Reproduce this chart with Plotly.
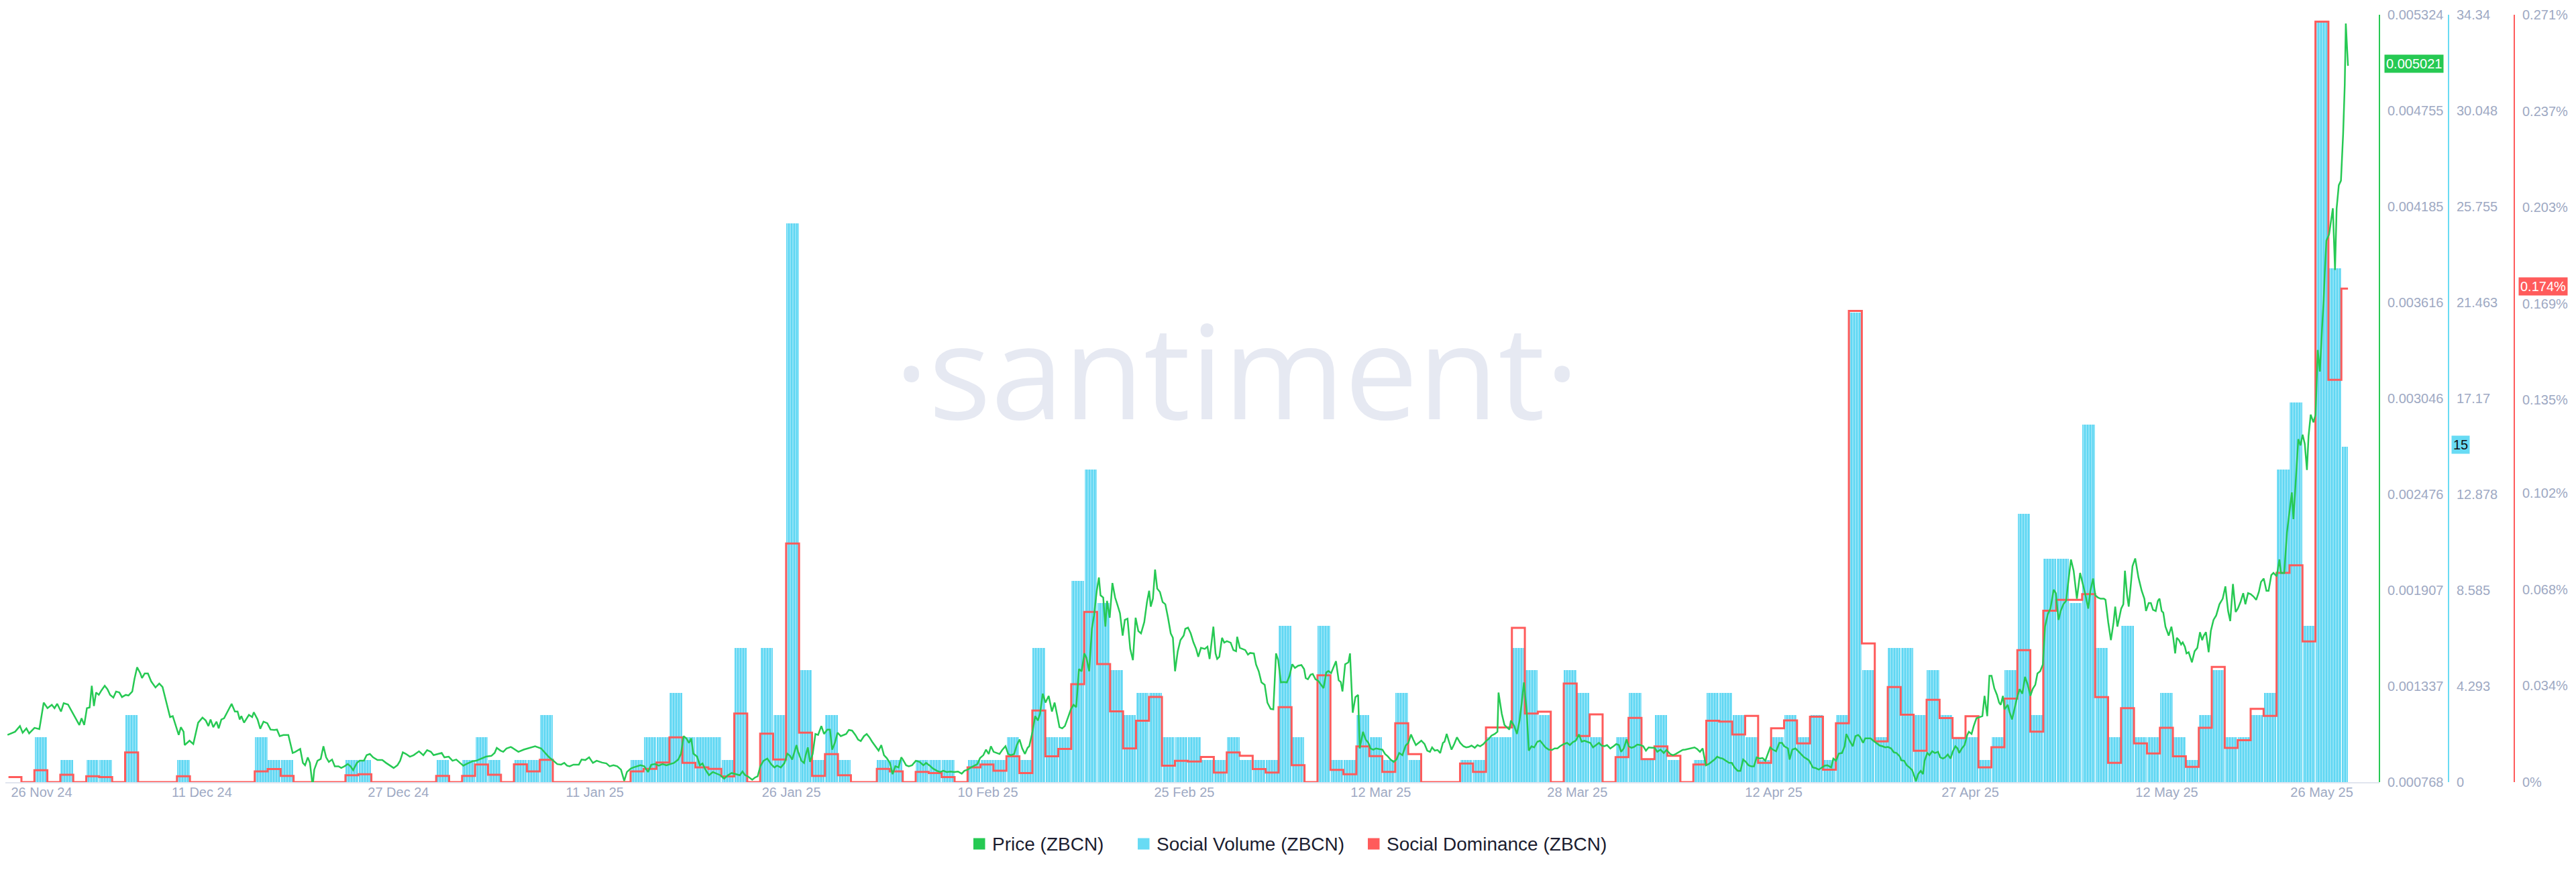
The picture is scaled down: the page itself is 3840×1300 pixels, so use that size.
import plotly.graph_objects as go
from datetime import datetime, timedelta

# ---------------- data ----------------
first_day = datetime(2024, 11, 27)          # daily bars, one per day

social_volume = [
    0, 0, 2, 0, 1, 0, 1, 1, 0, 3,
    0, 0, 0, 1, 0, 0, 0, 0, 0, 2,
    1, 1, 0, 0, 0, 0, 1, 1, 0, 0,
    0, 0, 0, 1, 0, 1, 2, 1, 0, 1,
    1, 3, 0, 0, 0, 0, 0, 0, 1, 2,
    2, 4, 2, 2, 2, 1, 6, 0, 6, 3,
    25, 5, 1, 3, 1, 0, 0, 1, 1, 0,
    1, 1, 1, 0, 1, 1, 1, 2, 1, 6,
    2, 2, 9, 14, 8, 5, 3, 4, 4, 2,
    2, 2, 1, 1, 2, 1, 1, 1, 7, 2,
    0, 7, 1, 1, 3, 2, 1, 4, 1, 0,
    0, 0, 1, 1, 2, 2, 6, 5, 3, 0,
    5, 4, 2, 0, 2, 4, 1, 3, 1, 0,
    1, 4, 4, 3, 2, 1, 2, 3, 2, 3,
    1, 3, 21, 5, 2, 6, 6, 3, 5, 3,
    2, 2, 1, 2, 5, 12, 3, 10, 10, 8,
    16, 6, 2, 7, 2, 2, 4, 2, 1, 3,
    5, 2, 2, 3, 4, 14, 17, 7, 34, 23,
    15,
]

social_dominance_pct = [
    0.0018, 0, 0.0042, 0, 0.0026, 0, 0.0021, 0.0018, 0, 0.0105,
    0, 0, 0, 0.0021, 0, 0, 0, 0, 0, 0.0038,
    0.0046, 0.0022, 0, 0, 0, 0, 0.0024, 0.0028, 0, 0,
    0, 0, 0, 0.0022, 0, 0.0022, 0.0062, 0.0026, 0, 0.0063,
    0.0038, 0.0079, 0, 0, 0, 0, 0, 0, 0.0038, 0.0047,
    0.0069, 0.0158, 0.0068, 0.0052, 0.0047, 0.002, 0.0242, 0, 0.0171, 0.008,
    0.0843, 0.0175, 0.0022, 0.0099, 0.0024, 0, 0, 0.0047, 0.0038, 0,
    0.0036, 0.0032, 0.0018, 0, 0.0052, 0.0062, 0.004, 0.0091, 0.0032, 0.0253,
    0.0091, 0.0117, 0.0346, 0.0601, 0.0417, 0.025, 0.0119, 0.0217, 0.0301, 0.0058,
    0.0075, 0.0073, 0.0089, 0.0034, 0.0105, 0.0093, 0.0046, 0.0034, 0.0265, 0.006,
    0, 0.0377, 0.0043, 0.0028, 0.0126, 0.0092, 0.0036, 0.0208, 0.0099, 0,
    0, 0, 0.0066, 0.0036, 0.0193, 0.0193, 0.0545, 0.0242, 0.0249, 0,
    0.0348, 0.0163, 0.0239, 0, 0.0088, 0.0227, 0.0081, 0.0126, 0.0093, 0,
    0.0062, 0.0217, 0.0214, 0.0168, 0.0234, 0.0068, 0.019, 0.0218, 0.0137, 0.0231,
    0.0044, 0.0208, 0.1664, 0.049, 0.0144, 0.0336, 0.0238, 0.0111, 0.0291, 0.0226,
    0.0156, 0.0233, 0.0052, 0.0123, 0.0295, 0.0466, 0.0178, 0.0605, 0.0644, 0.0644,
    0.0664, 0.03, 0.0068, 0.0261, 0.0137, 0.0101, 0.0192, 0.0091, 0.0054, 0.0192,
    0.0407, 0.0121, 0.0148, 0.0259, 0.0234, 0.0739, 0.0766, 0.0497, 0.2686, 0.1421,
    0.1743,
]

# price: hours after the start time, and price in USD
price_start = datetime(2024, 11, 26, 18, 15)
price_hours = [
    4, 18, 27, 32, 39, 44, 54, 63, 71, 78, 86, 91, 96, 103, 108, 116, 121, 128, 137, 141,
    146, 151, 156, 160, 164, 168, 173, 178, 184, 189, 194, 200, 205, 211, 216, 223, 228, 235, 239, 244,
    250, 253, 258, 264, 270, 278, 285, 291, 298, 305, 310, 318, 321, 325, 330, 332, 341, 348, 357, 365,
    371, 376, 380, 385, 391, 395, 400, 405, 412, 419, 425, 430, 434, 437, 442, 451, 457, 460, 467, 472,
    478, 485, 491, 498, 503, 508, 515, 524, 532, 537, 546, 551, 555, 560, 564, 569, 572, 578, 584, 589,
    594, 599, 605, 610, 617, 622, 628, 634, 639, 644, 651, 656, 664, 669, 675, 681, 689, 698, 705, 712,
    719, 726, 731, 736, 742, 749, 756, 766, 774, 781, 788, 793, 801, 808, 813, 821, 828, 835, 842, 848,
    856, 865, 872, 881, 890, 900, 906, 910, 917, 922, 928, 936, 943, 950, 960, 970, 981, 992, 1000, 1007,
    1015, 1022, 1029, 1035, 1040, 1045, 1052, 1062, 1067, 1074, 1081, 1088, 1095, 1105, 1113,
    1119, 1126, 1133, 1140, 1146, 1151, 1158, 1163, 1169, 1176, 1183, 1190, 1196, 1203, 1210, 1217,
    1224, 1231, 1238, 1246, 1251, 1256, 1261, 1266, 1270, 1274, 1281, 1286, 1291, 1296, 1303, 1310,
    1317, 1324, 1331, 1338, 1345, 1353, 1360, 1365, 1370, 1375, 1383, 1388, 1393, 1398, 1404, 1411,
    1418, 1424, 1429, 1436, 1443, 1448, 1453, 1457, 1461, 1465, 1468, 1474, 1479, 1482, 1486, 1490,
    1495, 1500, 1505, 1511, 1516, 1522, 1527, 1531, 1536, 1541, 1547, 1552, 1557, 1562, 1568, 1574,
    1579, 1584, 1590, 1595, 1600, 1605, 1611, 1617, 1622, 1627, 1632, 1638, 1643, 1648, 1654, 1659,
    1662, 1668, 1673, 1679, 1686, 1693, 1700, 1705, 1711, 1718, 1725, 1731, 1737, 1743, 1750, 1757,
    1764, 1771, 1776, 1782, 1788, 1795, 1800, 1805, 1811, 1816, 1821, 1825, 1830, 1836, 1841, 1846,
    1852, 1857, 1862, 1868, 1873, 1878, 1883, 1888, 1893, 1896, 1902, 1907, 1912, 1916, 1921, 1926,
    1932, 1938, 1943, 1948, 1952, 1957, 1962, 1968, 1973, 1978, 1983, 1988, 1993, 1998, 2002, 2007,
    2012, 2016, 2021, 2025, 2028, 2033, 2037, 2040, 2045, 2050, 2055, 2059, 2064, 2069, 2073, 2078,
    2083, 2088, 2093, 2098, 2103, 2109, 2114, 2118, 2121, 2125, 2129, 2133, 2138, 2143, 2148, 2153,
    2158, 2162, 2166, 2171, 2176, 2182, 2185, 2190, 2195, 2200, 2205, 2209, 2214, 2221, 2226, 2230,
    2237, 2241, 2244, 2248, 2253, 2257, 2262, 2269, 2274, 2279, 2281, 2286, 2291, 2296, 2301, 2305,
    2312, 2316, 2321, 2326, 2332, 2337, 2343, 2348, 2353, 2357, 2362, 2367, 2373, 2378, 2383, 2388,
    2394, 2400, 2405, 2408, 2412, 2417, 2421, 2426, 2431, 2437, 2441, 2446, 2450, 2455, 2460, 2464,
    2469, 2473, 2476, 2481, 2487, 2490, 2495, 2500, 2505, 2508, 2514, 2519, 2524, 2528, 2533, 2538,
    2544, 2550, 2555, 2560, 2565, 2571, 2576, 2581, 2587, 2593, 2598, 2603, 2607, 2612, 2617, 2622,
    2628, 2633, 2638, 2642, 2647, 2652, 2657, 2662, 2665, 2669, 2674, 2678, 2683, 2688, 2694, 2700,
    2705, 2710, 2715, 2721, 2726, 2731, 2737, 2742, 2747, 2752, 2758, 2763, 2765, 2771, 2776, 2781,
    2785, 2788, 2794, 2799, 2804, 2808, 2812, 2817, 2821, 2826, 2831, 2837, 2842, 2847, 2852, 2858,
    2864, 2869, 2874, 2879, 2886, 2892, 2897, 2902, 2908, 2914, 2919, 2924, 2929, 2935, 2940, 2945,
    2951, 2956, 2961, 2966, 2972, 2978, 2983, 2988, 2992, 2997, 3002, 3006, 3011, 3016, 3022, 3028,
    3033, 3038, 3043, 3049, 3054, 3059, 3065, 3071, 3076, 3083, 3088, 3093, 3101, 3106, 3111, 3116,
    3122, 3128, 3133, 3138, 3143, 3149, 3154, 3159, 3165, 3170, 3175, 3180, 3186, 3192, 3197, 3202,
    3208, 3213, 3218, 3223, 3228, 3233, 3238, 3243, 3249, 3254, 3259, 3263, 3268, 3273, 3279, 3285,
    3290,
    3294, 3301, 3304, 3309, 3315, 3321, 3326, 3331, 3335, 3340, 3347, 3352, 3358, 3364, 3369, 3374,
    3378, 3381, 3385, 3390, 3395, 3401, 3406, 3409, 3415, 3421, 3426, 3431, 3435, 3440, 3444, 3449,
    3454, 3459, 3465, 3471, 3476, 3481, 3486, 3492, 3497, 3502, 3508, 3511, 3516, 3521, 3526, 3531,
    3535, 3538, 3542, 3547, 3551, 3554, 3559, 3563, 3568, 3573, 3579, 3583, 3588, 3592, 3597, 3602,
    3606, 3611, 3615, 3618, 3623, 3628, 3633, 3636, 3641, 3645, 3650, 3656, 3661, 3665, 3670, 3674,
    3678, 3683, 3688, 3692, 3695, 3699, 3702, 3708, 3711, 3716, 3720, 3725, 3730, 3735, 3740, 3745,
    3750, 3754, 3759, 3763, 3768, 3773, 3777, 3782, 3787, 3793, 3797, 3802, 3806, 3811, 3816, 3820,
    3825, 3830, 3836, 3842, 3847, 3852, 3857, 3861, 3866, 3870, 3875, 3880, 3886, 3889, 3894, 3899,
    3904, 3907, 3911, 3914, 3918, 3922, 3925, 3929, 3932, 3936, 3939, 3944, 3950, 3956, 3961, 3964,
    3969, 3973, 3977, 3982, 3986, 3989, 3993, 3996, 4000, 4006, 4011, 4014, 4018, 4021, 4025, 4029,
    4032, 4036, 4039, 4043, 4049, 4054, 4059, 4064, 4068, 4071, 4075, 4080, 4084, 4089, 4094, 4100,
    4106, 4111, 4116, 4120, 4125, 4130, 4134, 4139, 4144, 4148, 4153, 4158, 4163, 4168, 4173, 4177,
    4182, 4187, 4191, 4196, 4200, 4206, 4211, 4214, 4220, 4225, 4230, 4234, 4237, 4241,
    4246, 4250, 4254, 4258, 4262, 4265, 4269, 4274, 4278, 4282, 4286, 4290, 4293, 4295, 4298, 4303,
    4307, 4310, 4314, 4317, 4321, 4325, 4329, 4332, 4334, 4338,
]
price_values = [
    0.001048, 0.001067, 0.001101, 0.001061, 0.001087, 0.001057, 0.001090, 0.001083, 0.001240, 0.001207,
    0.001227, 0.001207, 0.001233, 0.001187, 0.001237, 0.001229, 0.001200, 0.001160, 0.001107, 0.001147,
    0.001107, 0.001207, 0.001211, 0.001340, 0.001220, 0.001300, 0.001286, 0.001313, 0.001340, 0.001320,
    0.001286, 0.001270, 0.001306, 0.001300, 0.001273, 0.001286, 0.001282, 0.001306, 0.001379, 0.001450,
    0.001413, 0.001386, 0.001413, 0.001413, 0.001366, 0.001330, 0.001353, 0.001333, 0.001240, 0.001154,
    0.001160, 0.001080, 0.001048, 0.001094, 0.001067, 0.000988, 0.001014, 0.000994, 0.001121, 0.001151,
    0.001134, 0.001101, 0.001140, 0.001094, 0.001127, 0.001087, 0.001140, 0.001147, 0.001187, 0.001233,
    0.001187, 0.001187, 0.001140, 0.001160, 0.001121, 0.001167, 0.001154, 0.001183, 0.001140, 0.001085,
    0.001127, 0.001118, 0.001080, 0.001078, 0.001080, 0.001041, 0.001048, 0.001048, 0.000941, 0.000948,
    0.000965, 0.000882, 0.000868, 0.000915, 0.000882, 0.000742, 0.000842, 0.000895, 0.000906, 0.000981,
    0.000915, 0.000888, 0.000902, 0.000862, 0.000862, 0.000852, 0.000862, 0.000875, 0.000862, 0.000839,
    0.000882, 0.000895, 0.000895, 0.000928, 0.000935, 0.000915, 0.000899, 0.000899, 0.000882, 0.000866,
    0.000852, 0.000868, 0.000895, 0.000945, 0.000935, 0.000919, 0.000928, 0.000951, 0.000928, 0.000958,
    0.000948, 0.000928, 0.000935, 0.000941, 0.000915, 0.000919, 0.000895, 0.000902, 0.000882, 0.000866,
    0.000879, 0.000892, 0.000895, 0.000908, 0.000919, 0.000924, 0.000941, 0.000971, 0.000955, 0.000948,
    0.000968, 0.000977, 0.000964, 0.000948, 0.000961, 0.000971, 0.000981, 0.000968, 0.000941, 0.000915,
    0.000895, 0.000875, 0.000872, 0.000882, 0.000866, 0.000862, 0.000872, 0.000872, 0.000902, 0.000899,
    0.000915, 0.000882, 0.000895, 0.000884, 0.000879,
    0.000862, 0.000868, 0.000862, 0.000842, 0.000775, 0.000828, 0.000848, 0.000855, 0.000862, 0.000868,
    0.000862, 0.000828, 0.000871, 0.000875, 0.000866, 0.000875, 0.000868, 0.000875, 0.000882, 0.000902,
    0.000935, 0.001041, 0.001028, 0.001001, 0.001028, 0.000937, 0.000919, 0.000868, 0.000879, 0.000844,
    0.000809, 0.000828, 0.000818, 0.000809, 0.000789, 0.000809, 0.000822, 0.000815, 0.000809, 0.000831,
    0.000809, 0.000802, 0.000782, 0.000795, 0.000802, 0.000862, 0.000895, 0.000908, 0.000875, 0.000855,
    0.000866, 0.000855, 0.000882, 0.000937, 0.000924, 0.000902, 0.000948, 0.000988, 0.000948, 0.000895,
    0.000882, 0.000928, 0.000974, 0.000888, 0.000935, 0.001054, 0.001048, 0.001101, 0.001054, 0.001080,
    0.001080, 0.000961, 0.001001, 0.001061, 0.001041, 0.001048, 0.001054, 0.001078, 0.001074, 0.001048,
    0.001021, 0.001012, 0.001041, 0.001054, 0.001034, 0.001008, 0.000981, 0.000955, 0.000988, 0.000928,
    0.000911, 0.000882, 0.000815, 0.000862, 0.000855, 0.000915, 0.000902, 0.000868, 0.000862, 0.000868,
    0.000895, 0.000888, 0.000868, 0.000882, 0.000868, 0.000848, 0.000835, 0.000828, 0.000835, 0.000828,
    0.000831, 0.000828, 0.000831, 0.000818, 0.000835, 0.000842, 0.000855, 0.000868, 0.000875, 0.000911,
    0.000928, 0.000961, 0.000935, 0.000981, 0.000948, 0.000941, 0.000935, 0.000959, 0.000981, 0.000935,
    0.000928, 0.000935, 0.000988, 0.001021, 0.000968, 0.000935, 0.000972, 0.000981, 0.001067, 0.001160,
    0.001134, 0.001174, 0.001293, 0.001240, 0.001280, 0.001187, 0.001240, 0.001160, 0.001094, 0.001087,
    0.001101, 0.001154, 0.001200, 0.001227, 0.001213, 0.001439, 0.001426, 0.001532, 0.001505, 0.001426,
    0.001678, 0.001758, 0.001904, 0.001983, 0.001877, 0.001864, 0.001691, 0.001844, 0.001744, 0.001950,
    0.001864, 0.001824, 0.001771, 0.001638, 0.001731, 0.001738, 0.001559, 0.001492, 0.001744, 0.001665,
    0.001651, 0.001718, 0.001837, 0.001904, 0.001810, 0.001857, 0.002030, 0.001917, 0.001897, 0.001837,
    0.001824, 0.001744, 0.001651, 0.001625, 0.001426, 0.001545, 0.001611, 0.001638, 0.001678, 0.001685,
    0.001651, 0.001598, 0.001559, 0.001512, 0.001565, 0.001559, 0.001572, 0.001499,
    0.001691, 0.001532, 0.001499, 0.001512, 0.001625, 0.001596, 0.001605, 0.001596, 0.001552, 0.001545,
    0.001631, 0.001565, 0.001559, 0.001552, 0.001525, 0.001535, 0.001532, 0.001466, 0.001426, 0.001360,
    0.001346, 0.001240, 0.001203, 0.001200, 0.001532, 0.001492, 0.001360, 0.001362, 0.001360, 0.001399,
    0.001468, 0.001446, 0.001459, 0.001463, 0.001439, 0.001386, 0.001379, 0.001406, 0.001410, 0.001379,
    0.001370, 0.001346, 0.001326, 0.001419, 0.001428, 0.001415, 0.001452, 0.001486, 0.001373, 0.001362,
    0.001306, 0.001468, 0.001479, 0.001532, 0.001180, 0.001273, 0.001286, 0.000968, 0.001067, 0.001021,
    0.001001, 0.000968, 0.000961, 0.000968, 0.000964, 0.000961, 0.000935, 0.000921, 0.000902, 0.000888,
    0.000902, 0.000941, 0.000928, 0.000985, 0.001001, 0.001051, 0.001021, 0.000988, 0.001001, 0.001014,
    0.000994, 0.000955, 0.000948, 0.000974, 0.000955, 0.000959, 0.000941, 0.001001, 0.001008, 0.001054,
    0.001001, 0.000961, 0.000994, 0.001034, 0.001001, 0.000981, 0.000974, 0.000977, 0.000985, 0.000972,
    0.000988, 0.000981, 0.000994, 0.001012, 0.001025, 0.001044, 0.001054, 0.001067, 0.001300, 0.001174,
    0.001107, 0.001094, 0.001080, 0.001134, 0.001101, 0.001054, 0.001134, 0.001240, 0.001360, 0.001200,
    0.000955, 0.000981, 0.000974, 0.001008, 0.001014, 0.000994, 0.000974, 0.000961, 0.000959, 0.000968,
    0.000968, 0.000981, 0.000994, 0.001001, 0.000988, 0.001004, 0.001014, 0.001051, 0.001008, 0.001014,
    0.001008, 0.001001, 0.000974, 0.000988, 0.001001, 0.000985, 0.000981, 0.000988, 0.000968, 0.000981,
    0.000994, 0.000988, 0.000948, 0.000968, 0.001021, 0.000981, 0.000972, 0.000977, 0.000991, 0.000988,
    0.000981, 0.000955, 0.000974, 0.000972, 0.000972, 0.000948, 0.000961, 0.000941, 0.000959, 0.000935,
    0.000928, 0.000935, 0.000948, 0.000959, 0.000961, 0.000964, 0.000968, 0.000974, 0.000964, 0.000948,
    0.000968, 0.000868, 0.000875, 0.000888, 0.000902, 0.000919, 0.000911, 0.000908, 0.000895, 0.000882,
    0.000882, 0.000855, 0.000835, 0.000835, 0.000902, 0.000888, 0.000868, 0.000862, 0.000862, 0.000915,
    0.000908, 0.000911, 0.000895, 0.000928, 0.000974, 0.000961, 0.000951, 0.001001, 0.001001,
    0.000981, 0.000968, 0.000902, 0.000961, 0.000968, 0.000948, 0.000928, 0.000915, 0.000908, 0.000897,
    0.000855, 0.000852, 0.000842, 0.000855, 0.000866, 0.000868, 0.000862, 0.000855, 0.000908, 0.000895,
    0.000937, 0.000941, 0.000981, 0.001054, 0.001014, 0.000981, 0.001041, 0.001048, 0.001034, 0.001001,
    0.001028, 0.001028, 0.001028, 0.001014, 0.001001, 0.000985, 0.000981, 0.000974, 0.000977, 0.000968,
    0.000945, 0.000941, 0.000921, 0.000897, 0.000895, 0.000868, 0.000855, 0.000839, 0.000802, 0.000773,
    0.000815, 0.000835, 0.000815, 0.000895, 0.000941, 0.000928, 0.000951, 0.000941, 0.000948, 0.000915,
    0.000908, 0.000915, 0.000932, 0.000908, 0.000948, 0.000981, 0.000968, 0.000941, 0.000968, 0.000988,
    0.001048, 0.001067, 0.001054, 0.001101, 0.001147, 0.001154, 0.001160, 0.001280, 0.001160, 0.001399,
    0.001399, 0.001326, 0.001286, 0.001240, 0.001227, 0.001280, 0.001200, 0.001227, 0.001187, 0.001140,
    0.001200, 0.001267, 0.001320, 0.001293, 0.001393, 0.001346, 0.001280, 0.001320, 0.001346, 0.001413,
    0.001426, 0.001466, 0.001691, 0.001764, 0.001798, 0.001910, 0.001890, 0.001731, 0.001784, 0.001824,
    0.001844, 0.001957, 0.002090, 0.002023, 0.001857, 0.002010, 0.001944, 0.001877, 0.001798, 0.001904,
    0.001977, 0.001877, 0.001864, 0.001857, 0.001857, 0.001850, 0.001718, 0.001611, 0.001718, 0.001810,
    0.001691, 0.001744, 0.001798, 0.001824, 0.002023, 0.001877, 0.001810, 0.001944, 0.002050, 0.002096,
    0.001983, 0.001904, 0.001857, 0.001784, 0.001831, 0.001831, 0.001791, 0.001784, 0.001844, 0.001857,
    0.001784, 0.001774, 0.001691, 0.001638, 0.001691, 0.001638, 0.001532, 0.001625, 0.001611, 0.001585,
    0.001598, 0.001572, 0.001532, 0.001539, 0.001479, 0.001545, 0.001565, 0.001658, 0.001611, 0.001638,
    0.001658, 0.001539, 0.001665, 0.001731, 0.001758, 0.001824, 0.001857, 0.001930, 0.001784, 0.001724,
    0.001944, 0.001778, 0.001798, 0.001837, 0.001890, 0.001824, 0.001890, 0.001884, 0.001870, 0.001850,
    0.001897, 0.001957, 0.001977, 0.001904, 0.001904, 0.001997, 0.002010, 0.001990, 0.002090, 0.002010,
    0.002010, 0.002249, 0.002382, 0.002488, 0.002329, 0.002541,
    0.002804, 0.002767, 0.002831, 0.002776, 0.002621, 0.002822, 0.002950, 0.002904, 0.002950, 0.003334,
    0.003206, 0.003462, 0.003626, 0.003791, 0.003983, 0.004020, 0.004120, 0.004175, 0.003809, 0.004175,
    0.004312, 0.004339, 0.004614, 0.004906, 0.005272, 0.005021,
]

price_ticks = [0.000768, 0.001337, 0.001907, 0.002476, 0.003046, 0.003616, 0.004185, 0.004755, 0.005324]
volume_ticks = [0, 4.293, 8.585, 12.878, 17.17, 21.463, 25.755, 30.048, 34.34]
dominance_ticks = [0, 0.034, 0.068, 0.102, 0.135, 0.169, 0.203, 0.237, 0.271]

x_tick_text = ["26 Nov 24", "11 Dec 24", "27 Dec 24", "11 Jan 25", "26 Jan 25", "10 Feb 25",
               "25 Feb 25", "12 Mar 25", "28 Mar 25", "12 Apr 25", "27 Apr 25", "12 May 25", "26 May 25"]
x_tick_at = ["2024-11-29 13:20", "2024-12-11 22:07", "2024-12-27 02:00", "2025-01-11 05:50",
             "2025-01-26 09:40", "2025-02-10 13:35", "2025-02-25 17:25", "2025-03-12 21:20",
             "2025-03-28 01:10", "2025-04-12 05:00", "2025-04-27 08:50", "2025-05-12 12:45",
             "2025-05-24 11:45"]

series_names = ["Price (ZBCN)", "Social Volume (ZBCN)", "Social Dominance (ZBCN)"]

# ---------------- build ----------------
GREEN = "#26c953"
CYAN = "#68dbf4"
RED = "#ff5b5b"
LABEL = "#9ea9c3"
FONT = "Liberation Sans, Arial, sans-serif"
DAY_MS = 86400000

days = [first_day + timedelta(days=i) for i in range(len(social_volume))]
price_times = [price_start + timedelta(hours=h) for h in price_hours]
data_end = price_times[-1]

bar_widths = [0.96 * DAY_MS] * len(days)
bar_widths[-1] = (data_end - days[-1]).total_seconds() * 1000 - 0.02 * DAY_MS

fig = go.Figure()

fig.add_trace(go.Bar(
    x=days, y=social_volume, yaxis="y", width=bar_widths, offset=0.02 * DAY_MS,
    marker=dict(color="#5fd7f3", line=dict(width=0),
                pattern=dict(shape="|", fillmode="overlay", fgcolor="#ffffff",
                             fgopacity=0.5, size=4, solidity=0.3)),
    showlegend=False, name=series_names[1]))

fig.add_trace(go.Scatter(
    x=days + [data_end], y=social_dominance_pct + [social_dominance_pct[-1]], yaxis="y2",
    mode="lines", line=dict(color=RED, width=3, shape="hv"), showlegend=False,
    name=series_names[2]))

fig.add_trace(go.Scatter(
    x=price_times, y=price_values, yaxis="y3", mode="lines",
    line=dict(color=GREEN, width=2.5), showlegend=False, name=series_names[0]))

W, H = 3840, 1300
PLOT_TOP, PLOT_BOTTOM = 14, 1158
x_end = 3539 / W
x_range_end = price_start + timedelta(days=3539 / 19.32)


def py(y_px):
    return (PLOT_BOTTOM - y_px) / (PLOT_BOTTOM - PLOT_TOP)


def yax(rng, ticks, text, color, pos, **kw):
    d = dict(range=rng, tickmode="array", tickvals=ticks, ticktext=text,
             anchor="free", position=pos, side="right", showgrid=False, zeroline=False,
             showline=True, linecolor=color, linewidth=2, ticks="", ticklen=0,
             ticklabelstandoff=7,
             tickfont=dict(size=20, color=LABEL, family=FONT), fixedrange=True,
             automargin=False)
    d.update(kw)
    return d


fig.update_layout(
    template="none",
    width=W, height=H,
    margin=dict(l=0, r=0, t=PLOT_TOP, b=H - PLOT_BOTTOM, pad=0),
    paper_bgcolor="white", plot_bgcolor="white",
    font=dict(family=FONT, color=LABEL),
    bargap=0,
    showlegend=False,
    xaxis=dict(type="date", domain=[0, x_end], range=[price_start, x_range_end],
               anchor="y", showgrid=False, zeroline=False, showline=True,
               linecolor="#e1e5ef", linewidth=2, ticks="", ticklen=0, tickmode="array",
               tickvals=x_tick_at, ticktext=x_tick_text, ticklabelstandoff=-4,
               tickfont=dict(size=20, color=LABEL, family=FONT), automargin=False),
    yaxis=yax([0, 34.34], volume_ticks, [f"{v:g}" for v in volume_ticks], CYAN, 3642 / W),
    yaxis2=yax([0, 0.271], dominance_ticks, [f"{v:g}%" for v in dominance_ticks], RED,
               3740 / W, overlaying="y"),
    yaxis3=yax([0.000768, 0.005324], price_ticks, [f"{v:.6f}" for v in price_ticks], GREEN,
               x_end, overlaying="y"),
)

annotations = [
    dict(text="·santiment·", xref="paper", yref="paper", x=1835 / W, y=0.5385,
         xanchor="center", yanchor="middle", showarrow=False,
         font=dict(family="Open Sans, sans-serif", size=195, color="#e6e9f2")),
    dict(text=f"{price_values[-1]:.6f}", xref="paper", yref="y3", x=3546 / W, y=price_values[-1],
         xanchor="left", yanchor="middle", showarrow=False, bgcolor=GREEN, borderpad=2,
         yshift=3, font=dict(size=20, color="white", family=FONT)),
    dict(text=f"{social_volume[-1]}", xref="paper", yref="y", x=3646 / W, y=social_volume[-1],
         xanchor="left", yanchor="middle", showarrow=False, bgcolor=CYAN, borderpad=2,
         yshift=3, font=dict(size=20, color="#111111", family=FONT)),
    dict(text=f"{social_dominance_pct[-1]:.3f}%", xref="paper", yref="y2", x=3746 / W,
         y=social_dominance_pct[-1], xanchor="left", yanchor="middle", showarrow=False,
         yshift=3, bgcolor=RED, borderpad=2, font=dict(size=20, color="white", family=FONT)),
]

# legend (square swatch + label), centred under the chart
shapes = []
legend_y = py(1250)
for name, col, sq_left in zip(series_names, [GREEN, CYAN, RED], [1443, 1688, 2031]):
    shapes.append(dict(type="rect", xref="paper", yref="paper",
                       x0=sq_left / W, x1=(sq_left + 17.5) / W,
                       y0=py(1258.5), y1=py(1241.5), fillcolor=col, line=dict(width=0)))
    annotations.append(dict(text=name, xref="paper", yref="paper", x=(sq_left + 26) / W,
                            y=legend_y, xanchor="left", yanchor="middle", showarrow=False,
                            font=dict(size=28, color="#1b1d30", family=FONT)))

fig.update_layout(annotations=annotations, shapes=shapes)

fig.write_html("out.html")
